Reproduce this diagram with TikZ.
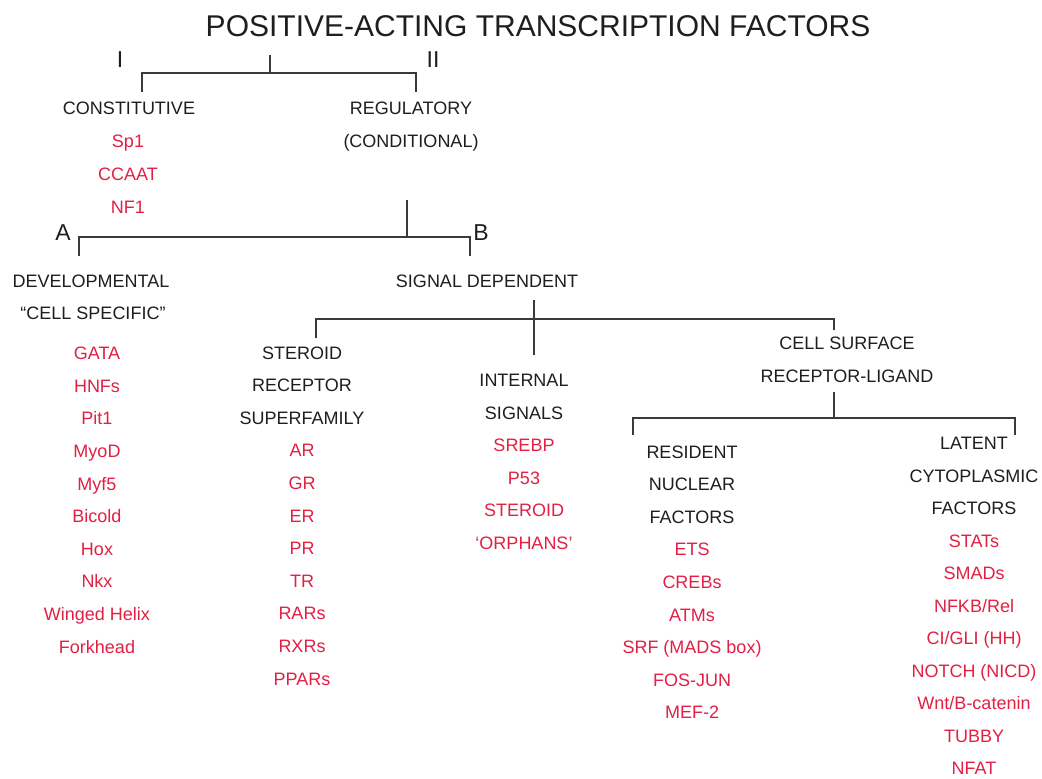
\documentclass[tikz,border=0pt]{standalone}
\usepackage{fontspec}
\setmainfont{Liberation Sans}
\definecolor{ink}{HTML}{1E1E1E}
\definecolor{redc}{RGB}{226,32,68}
\definecolor{linec}{HTML}{3A3A3A}
\begin{document}
\begin{tikzpicture}[x=0.75pt,y=-0.75pt,
 lbl/.style={font=\fontsize{13.5}{16}\selectfont, text height=9.7pt, text depth=0pt, inner sep=0pt, text=ink},
 item/.style={lbl, text=redc},
 roman/.style={font=\fontsize{17.25}{20}\selectfont, text height=12.4pt, text depth=0pt, inner sep=0pt, text=ink},
 ttl/.style={font=\fontsize{22.5}{26}\selectfont, text height=16.1pt, text depth=0pt, inner sep=0pt, text=ink},
 conn/.style={draw=linec, line width=0.9pt}]
\useasboundingbox[fill=white] (0,0) rectangle (1042,778);

% title and roman / letter labels
\node[ttl] (title) at (538,26) {POSITIVE-ACTING TRANSCRIPTION FACTORS};
\node[roman] (I) at (120,59) {I};
\node[roman] (II) at (433,59) {II};
\node[roman] (A) at (63,232) {A};
\node[roman] (B) at (481,232) {B};

% level 1 bracket
\coordinate (t1top) at (270,55);
\coordinate (t1mid) at (270,73);
\coordinate (t1L) at (142,73);
\coordinate (t1R) at (416,73);
\coordinate (t1Ld) at (142,92);
\coordinate (t1Rd) at (416,92);
\draw[conn] (t1top) -- (t1mid);
\draw[conn] (t1Ld) -- (t1L) -- (t1R) -- (t1Rd);

% constitutive
\node[lbl] (const) at (129,108) {CONSTITUTIVE};
\foreach \t [count=\i] in {Sp1,CCAAT,NF1}
  \node[item] (c\i) at (128,{108+33*\i}) {\t};

% regulatory
\node[lbl] (reg1) at (411,108) {REGULATORY};
\node[lbl] (reg2) at (411,141) {(CONDITIONAL)};

% level 2 bracket
\coordinate (t2top) at (407,200);
\coordinate (t2mid) at (407,237);
\coordinate (t2L) at (79,237);
\coordinate (t2R) at (470,237);
\coordinate (t2Ld) at (79,256);
\coordinate (t2Rd) at (470,256);
\draw[conn] (t2top) -- (t2mid);
\draw[conn] (t2Ld) -- (t2L) -- (t2R) -- (t2Rd);

% developmental
\node[lbl] (dev1) at (91,281) {DEVELOPMENTAL};
\node[lbl] (dev2) at (93,313) {“CELL SPECIFIC”};
\foreach \t [count=\i from 0] in {GATA,HNFs,Pit1,MyoD,Myf5,Bicold,Hox,Nkx,Winged Helix,Forkhead}
  \node[item] (d\i) at (97,{353.3+32.6*\i}) {\t};

% signal dependent
\node[lbl] (sig) at (487,281) {SIGNAL DEPENDENT};

% level 3 bracket
\coordinate (t3top) at (534,300);
\coordinate (t3mid) at (534,319);
\coordinate (t3bot) at (534,355);
\coordinate (t3L) at (316,319);
\coordinate (t3R) at (834,319);
\coordinate (t3Ld) at (316,338);
\coordinate (t3Rd) at (834,330);
\draw[conn] (t3top) -- (t3bot);
\draw[conn] (t3Ld) -- (t3L) -- (t3R) -- (t3Rd);

% steroid receptor superfamily
\foreach \t [count=\i from 0] in {STEROID,RECEPTOR,SUPERFAMILY}
  \node[lbl] (s\i) at (302,{352.7+32.6*\i}) {\t};
\foreach \t [count=\i from 3] in {AR,GR,ER,PR,TR,RARs,RXRs,PPARs}
  \node[item] (s\i) at (302,{352.7+32.6*\i}) {\t};

% internal signals
\foreach \t [count=\i from 0] in {INTERNAL,SIGNALS}
  \node[lbl] (n\i) at (524,{380+32.6*\i}) {\t};
\foreach \t [count=\i from 2] in {SREBP,P53,STEROID,‘ORPHANS’}
  \node[item] (n\i) at (524,{380+32.6*\i}) {\t};

% cell surface
\node[lbl] (cs1) at (847,343) {CELL SURFACE};
\node[lbl] (cs2) at (847,376) {RECEPTOR-LIGAND};

% level 4 bracket
\coordinate (t4top) at (834,392);
\coordinate (t4mid) at (834,418);
\coordinate (t4L) at (633,418);
\coordinate (t4R) at (1015,418);
\coordinate (t4Ld) at (633,435);
\coordinate (t4Rd) at (1015,435);
\draw[conn] (t4top) -- (t4mid);
\draw[conn] (t4Ld) -- (t4L) -- (t4R) -- (t4Rd);

% resident nuclear factors
\foreach \t [count=\i from 0] in {RESIDENT,NUCLEAR,FACTORS}
  \node[lbl] (r\i) at (692,{451.7+32.6*\i}) {\t};
\foreach \t [count=\i from 3] in {ETS,CREBs,ATMs,SRF (MADS box),FOS-JUN,MEF-2}
  \node[item] (r\i) at (692,{451.7+32.6*\i}) {\t};

% latent cytoplasmic factors
\foreach \t [count=\i from 0] in {LATENT,CYTOPLASMIC,FACTORS}
  \node[lbl] (l\i) at (974,{443.3+32.5*\i}) {\t};
\foreach \t [count=\i from 3] in {STATs,SMADs,{NFKB/Rel},{CI/GLI (HH)},NOTCH (NICD),{Wnt/B-catenin},TUBBY,NFAT}
  \node[item] (l\i) at (974,{443.3+32.5*\i}) {\t};
\end{tikzpicture}
\end{document}
